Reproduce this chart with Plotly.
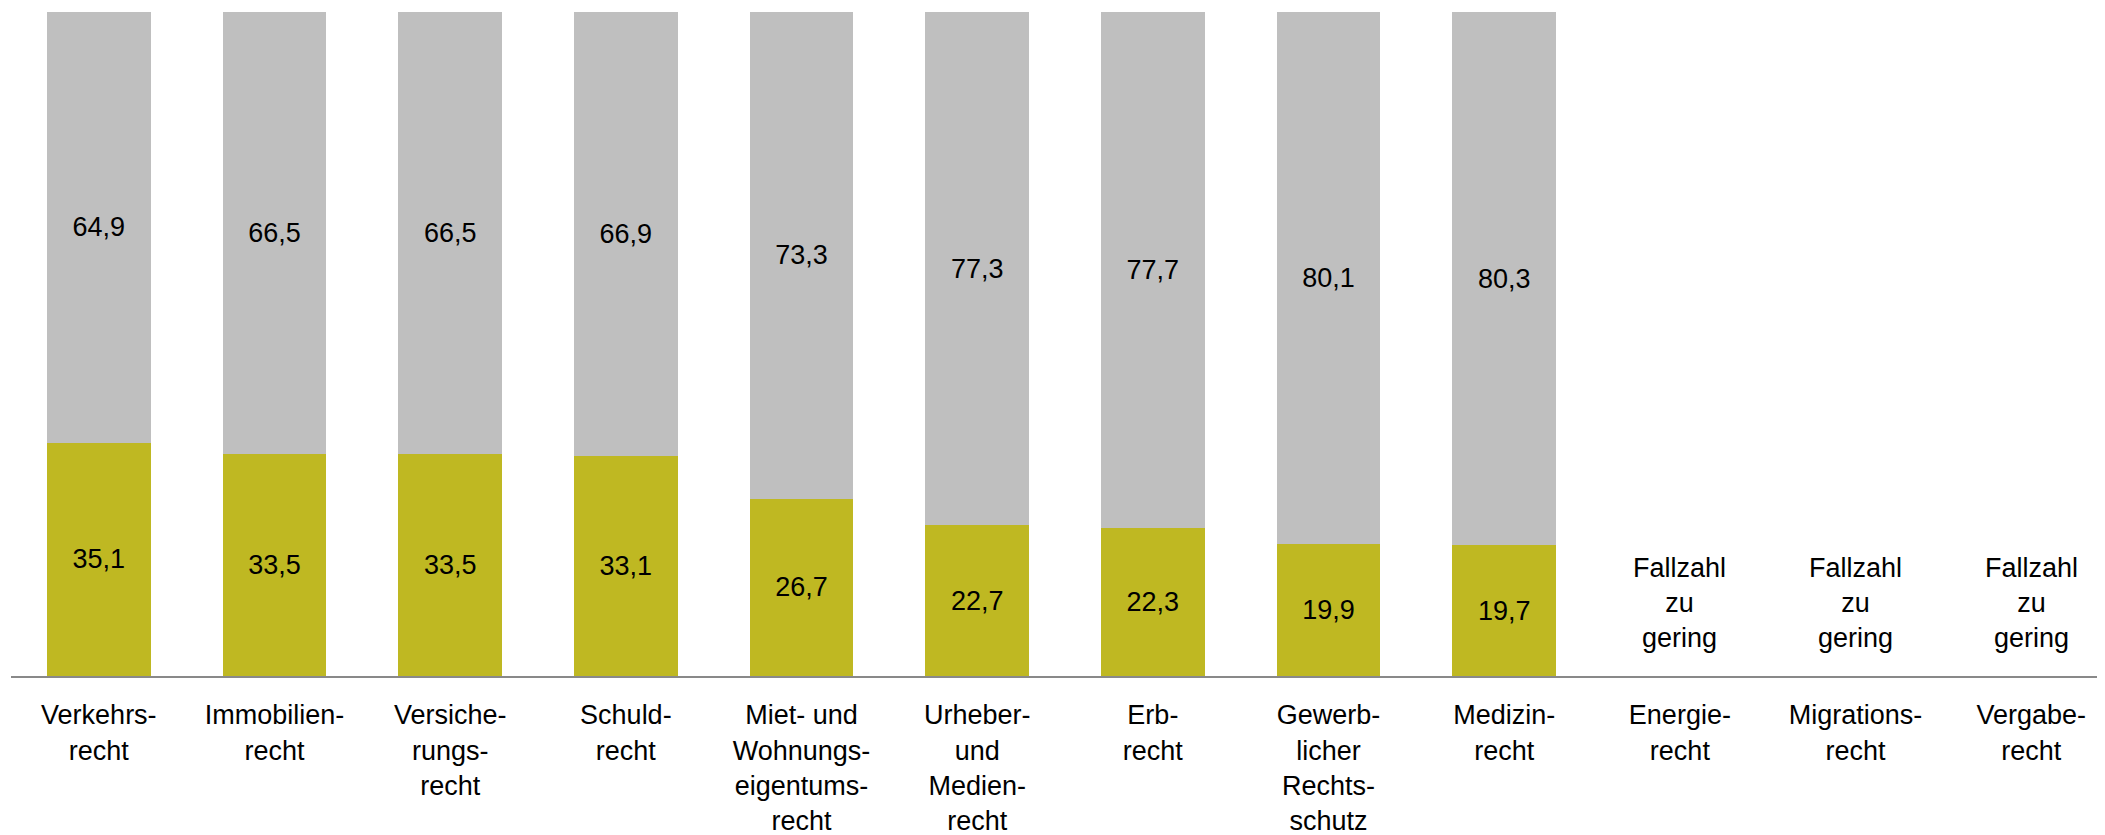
import plotly.graph_objects as go

categories = [
    "Verkehrs-<br>recht",
    "Immobilien-<br>recht",
    "Versiche-<br>rungs-<br>recht",
    "Schuld-<br>recht",
    "Miet- und<br>Wohnungs-<br>eigentums-<br>recht",
    "Urheber-<br>und<br>Medien-<br>recht",
    "Erb-<br>recht",
    "Gewerb-<br>licher<br>Rechts-<br>schutz",
    "Medizin-<br>recht",
    "Energie-<br>recht",
    "Migrations-<br>recht",
    "Vergabe-<br>recht",
]
anteil_ja = [35.1, 33.5, 33.5, 33.1, 26.7, 22.7, 22.3, 19.9, 19.7, None, None, None]
anteil_nein = [64.9, 66.5, 66.5, 66.9, 73.3, 77.3, 77.7, 80.1, 80.3, None, None, None]
hinweis = "Fallzahl<br>zu<br>gering"

font_family = "Liberation Sans, Arial, sans-serif"
font_size = 27

fig = go.Figure()
for vals, color in [(anteil_ja, "#BFB822"), (anteil_nein, "#BFBFBF")]:
    fig.add_trace(go.Bar(
        x=categories,
        y=vals,
        marker=dict(color=color, line=dict(width=0)),
        texttemplate="%{y:.1f}",
        textposition="inside",
        insidetextanchor="middle",
        textangle=0,
        textfont=dict(size=font_size, color="black", family=font_family),
        showlegend=False,
    ))

# Hinweis für Kategorien ohne ausreichende Fallzahl
for cat, v in zip(categories, anteil_ja):
    if v is None:
        fig.add_annotation(
            x=cat, y=0, xref="x", yref="y",
            text=hinweis, showarrow=False,
            yanchor="bottom", yshift=21,
            font=dict(size=font_size, color="black", family=font_family),
        )

# page body has an 8px margin, so the figure is a bit smaller than the window
fig.update_layout(
    barmode="stack",
    bargap=0.41,
    separators=",.",
    width=2097,
    height=827,
    margin=dict(l=3, r=0, t=4, b=159),
    paper_bgcolor="white",
    plot_bgcolor="white",
    font=dict(family=font_family, size=font_size, color="black"),
    xaxis=dict(
        range=[-0.5, 11.42],
        showline=True,
        linecolor="#898989",
        linewidth=2,
        ticks="",
        ticklabelstandoff=14,
        showgrid=False,
        zeroline=False,
        automargin=False,
        tickfont=dict(size=font_size, color="black", family=font_family),
    ),
    yaxis=dict(
        range=[0, 100],
        visible=False,
        showgrid=False,
        zeroline=False,
    ),
)

fig.write_html("out.html")
